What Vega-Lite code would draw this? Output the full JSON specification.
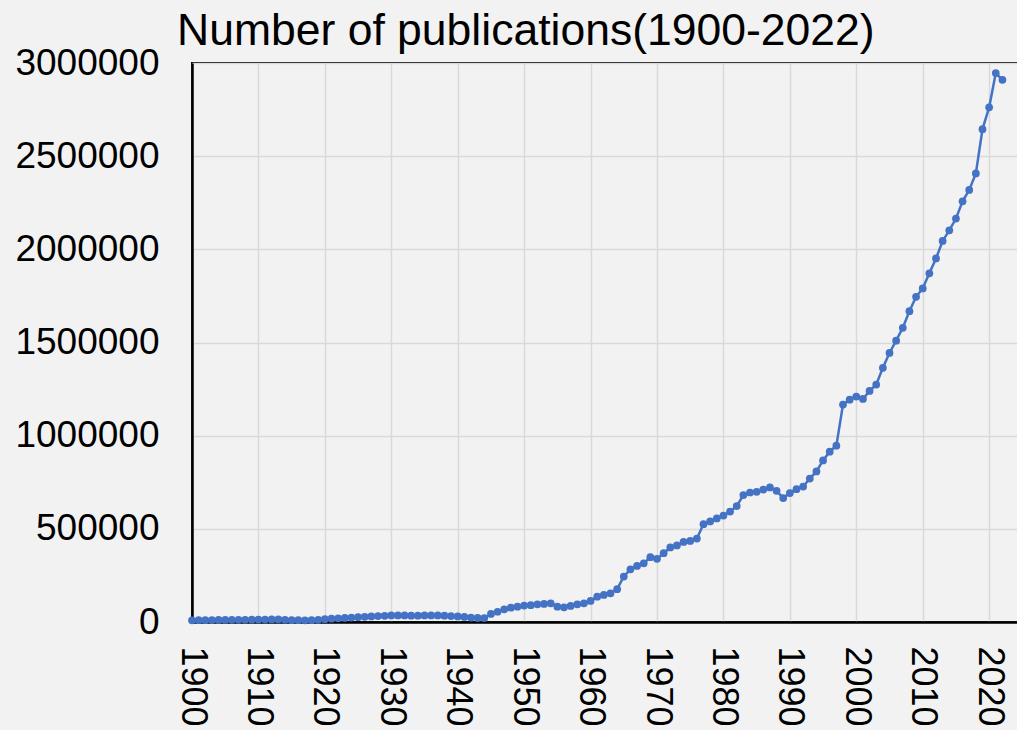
{
  "$schema": "https://vega.github.io/schema/vega-lite/v6.json",
  "autosize": {"type": "none"},
  "padding": {"left": 192, "top": 63, "right": 0, "bottom": 110},
  "width": 837,
  "height": 559,
  "background": "#f2f2f2",
  "title": {
    "text": "Number of publications(1900-2022)",
    "anchor": "start",
    "frame": "group",
    "dx": -15,
    "offset": -10,
    "font": "Liberation Sans",
    "fontSize": 44.5,
    "fontWeight": "normal",
    "color": "#000000"
  },
  "config": {
    "view": {"stroke": "#000000", "strokeWidth": 2},
    "axis": {
      "labelFont": "Liberation Sans",
      "labelFontSize": 36,
      "labelColor": "#000000",
      "ticks": false,
      "tickSize": 0,
      "domainColor": "#000000",
      "domainWidth": 2.5,
      "gridColor": "#d9d9d9",
      "gridWidth": 1.5,
      "title": null
    }
  },
  "data": {
    "values": [
      {"year": 1900, "count": 9000}, {"year": 1901, "count": 9500}, {"year": 1902, "count": 10000},
      {"year": 1903, "count": 10500}, {"year": 1904, "count": 11000}, {"year": 1905, "count": 11000},
      {"year": 1906, "count": 11500}, {"year": 1907, "count": 12000}, {"year": 1908, "count": 12000},
      {"year": 1909, "count": 12500}, {"year": 1910, "count": 13000}, {"year": 1911, "count": 13000},
      {"year": 1912, "count": 13500}, {"year": 1913, "count": 13500}, {"year": 1914, "count": 12000},
      {"year": 1915, "count": 10000}, {"year": 1916, "count": 9500}, {"year": 1917, "count": 9000},
      {"year": 1918, "count": 9500}, {"year": 1919, "count": 12000}, {"year": 1920, "count": 15000},
      {"year": 1921, "count": 18000}, {"year": 1922, "count": 20000}, {"year": 1923, "count": 22000},
      {"year": 1924, "count": 24000}, {"year": 1925, "count": 26000}, {"year": 1926, "count": 28000},
      {"year": 1927, "count": 30000}, {"year": 1928, "count": 32000}, {"year": 1929, "count": 33000},
      {"year": 1930, "count": 35000}, {"year": 1931, "count": 35000}, {"year": 1932, "count": 35000},
      {"year": 1933, "count": 34000}, {"year": 1934, "count": 34000}, {"year": 1935, "count": 35000},
      {"year": 1936, "count": 35000}, {"year": 1937, "count": 35000}, {"year": 1938, "count": 34000},
      {"year": 1939, "count": 32000}, {"year": 1940, "count": 30000}, {"year": 1941, "count": 27000},
      {"year": 1942, "count": 24000}, {"year": 1943, "count": 22000}, {"year": 1944, "count": 21000},
      {"year": 1945, "count": 43000}, {"year": 1946, "count": 55000}, {"year": 1947, "count": 68000},
      {"year": 1948, "count": 77000}, {"year": 1949, "count": 82000}, {"year": 1950, "count": 88000},
      {"year": 1951, "count": 90000}, {"year": 1952, "count": 95000}, {"year": 1953, "count": 97000},
      {"year": 1954, "count": 100000}, {"year": 1955, "count": 82000}, {"year": 1956, "count": 79000},
      {"year": 1957, "count": 86000}, {"year": 1958, "count": 95000}, {"year": 1959, "count": 100000},
      {"year": 1960, "count": 113000}, {"year": 1961, "count": 136000}, {"year": 1962, "count": 145000},
      {"year": 1963, "count": 154000}, {"year": 1964, "count": 176000}, {"year": 1965, "count": 244000},
      {"year": 1966, "count": 283000}, {"year": 1967, "count": 301000}, {"year": 1968, "count": 315000},
      {"year": 1969, "count": 348000}, {"year": 1970, "count": 339000}, {"year": 1971, "count": 369000},
      {"year": 1972, "count": 400000}, {"year": 1973, "count": 411000}, {"year": 1974, "count": 430000},
      {"year": 1975, "count": 435000}, {"year": 1976, "count": 448000}, {"year": 1977, "count": 525000},
      {"year": 1978, "count": 540000}, {"year": 1979, "count": 556000}, {"year": 1980, "count": 571000},
      {"year": 1981, "count": 593000}, {"year": 1982, "count": 622000}, {"year": 1983, "count": 681000},
      {"year": 1984, "count": 695000}, {"year": 1985, "count": 699000}, {"year": 1986, "count": 711000},
      {"year": 1987, "count": 722000}, {"year": 1988, "count": 704000}, {"year": 1989, "count": 665000},
      {"year": 1990, "count": 692000}, {"year": 1991, "count": 713000}, {"year": 1992, "count": 727000},
      {"year": 1993, "count": 770000}, {"year": 1994, "count": 808000}, {"year": 1995, "count": 867000},
      {"year": 1996, "count": 914000}, {"year": 1997, "count": 946000}, {"year": 1998, "count": 1167000},
      {"year": 1999, "count": 1193000}, {"year": 2000, "count": 1210000}, {"year": 2001, "count": 1197000},
      {"year": 2002, "count": 1240000}, {"year": 2003, "count": 1274000}, {"year": 2004, "count": 1364000},
      {"year": 2005, "count": 1444000}, {"year": 2006, "count": 1510000}, {"year": 2007, "count": 1579000},
      {"year": 2008, "count": 1668000}, {"year": 2009, "count": 1745000}, {"year": 2010, "count": 1790000},
      {"year": 2011, "count": 1871000}, {"year": 2012, "count": 1951000}, {"year": 2013, "count": 2045000},
      {"year": 2014, "count": 2102000}, {"year": 2015, "count": 2165000}, {"year": 2016, "count": 2258000},
      {"year": 2017, "count": 2319000}, {"year": 2018, "count": 2407000}, {"year": 2019, "count": 2645000},
      {"year": 2020, "count": 2762000}, {"year": 2021, "count": 2946000}, {"year": 2022, "count": 2910000}
    ]
  },
  "mark": {
    "type": "line",
    "color": "#4472c4",
    "strokeWidth": 2.5,
    "point": {"filled": true, "size": 60, "color": "#4472c4", "opacity": 1}
  },
  "encoding": {
    "x": {
      "field": "year",
      "type": "quantitative",
      "scale": {"domain": [1900, 2026], "nice": false, "zero": false},
      "axis": {
        "values": [1900, 1910, 1920, 1930, 1940, 1950, 1960, 1970, 1980, 1990, 2000, 2010, 2020],
        "format": "d",
        "labelAngle": 90,
        "labelAlign": "left",
        "labelBaseline": "middle",
        "labelPadding": 24,
        "labelFlush": false,
        "labelOverlap": false
      }
    },
    "y": {
      "field": "count",
      "type": "quantitative",
      "scale": {"domain": [0, 3000000], "nice": false},
      "axis": {
        "values": [0, 500000, 1000000, 1500000, 2000000, 2500000, 3000000],
        "format": "d",
        "labelFontSize": 37,
        "labelPadding": 33,
        "labelFlush": false,
        "labelOverlap": false
      }
    }
  }
}
